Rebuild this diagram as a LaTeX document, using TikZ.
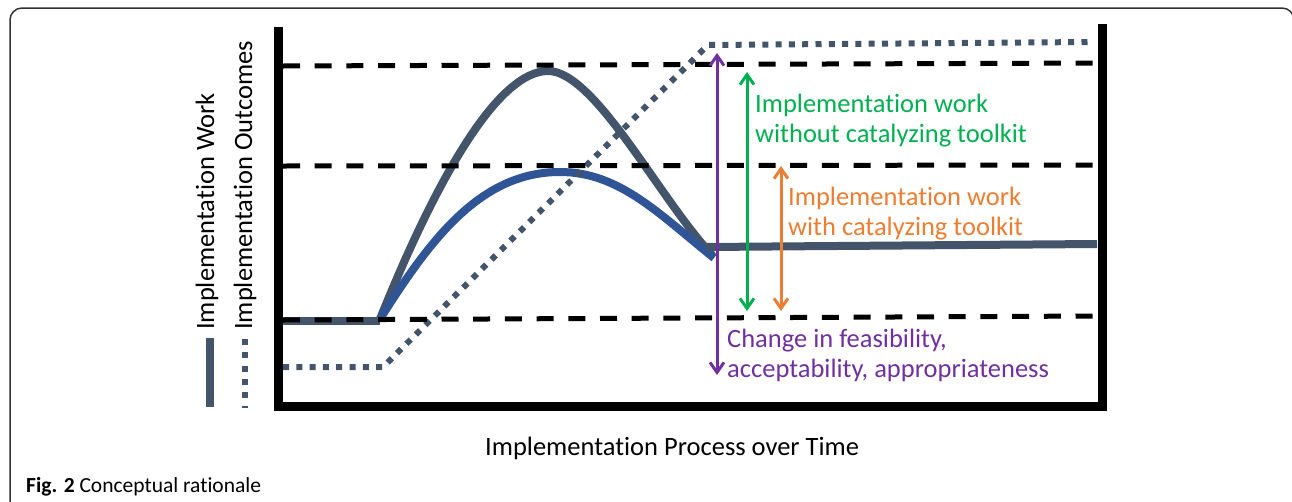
\documentclass[tikz,border=0pt]{standalone}
\usepackage{fontspec}
\setmainfont{Carlito}[Ligatures=NoCommon]
\usetikzlibrary{arrows.meta}

\definecolor{workgray}{HTML}{44546A}
\definecolor{workblue}{HTML}{2F5597}
\definecolor{notoolkit}{HTML}{00B050}
\definecolor{withtoolkit}{HTML}{ED7D31}
\definecolor{changepurple}{HTML}{7030A0}
\definecolor{framegray}{HTML}{333333}

\begin{document}
\begin{tikzpicture}[x=1pt,y=-1pt,
  framebox/.style={framegray, line width=1.5pt, rounded corners=12pt},
  axisline/.style={black, line width=9pt, line join=miter},
  levelline/.style={black, line width=5pt, dash pattern=on 17pt off 14.7pt},
  workline/.style={workgray, line width=8pt},
  toolkitline/.style={workblue, line width=8pt},
  outcomeline/.style={workgray, line width=6pt, dash pattern=on 6pt off 7.3pt},
  spanarrow/.style={line width=3pt,
    {Straight Barb[length=10pt,width=14pt]}-{Straight Barb[length=10pt,width=14pt]}},
  lbl/.style={anchor=base west, inner sep=0pt, font=\fontsize{26.5}{30}\selectfont},
]
\useasboundingbox (0,0) rectangle (1292,501);
\clip (0,0) rectangle (1292,501);

% outer figure frame
\draw[framebox] (10,520) -- (10,8) -- (1294,8) -- (1294,520);

% implementation work: without the toolkit (gray) and with it (blue)
\draw[workline] (283,321) -- (380,321);
\draw[workline] (380,319) .. controls (440,170) and (500,71) .. (548,71)
                          .. controls (595,71) and (660,200) .. (713,256);
\draw[toolkitline] (380,319) .. controls (430,240) and (480,172) .. (560,172)
                             .. controls (620,172) and (660,215) .. (714,258);
\draw[workline] (706,247) -- (1097,244);

% implementation outcomes
\draw[outcomeline] (283,367) -- (383,367) -- (708,45) -- (1090,42);

% reference levels
\draw[levelline] (283,66) -- (1097,63);
\draw[levelline] (283,166) -- (1097,165);
\draw[levelline] (283,320) -- (1097,316);

% axes
\draw[axisline] (278,27) -- (278,406) -- (1102,406) -- (1102,24);

% legend
\draw[workline] (210,338) -- (210,407);
\draw[outcomeline] (245,339) -- (245,408);
\node[lbl, rotate=90] (lblwork) at (214,330) {Implementation Work};
\node[lbl, rotate=90] (lbloutcome) at (252,330) {Implementation Outcomes};

% spans
\coordinate (chgtop) at (717,53);
\coordinate (chgbot) at (717,375);
\coordinate (notop) at (747,72);
\coordinate (nobot) at (747,311);
\coordinate (withtop) at (781,166);
\coordinate (withbot) at (781,311);
\draw[spanarrow, changepurple] (chgtop) -- (chgbot);
\draw[spanarrow, notoolkit] (notop) -- (nobot);
\draw[spanarrow, withtoolkit] (withtop) -- (withbot);

\node[lbl, text=notoolkit] (noA) at (755,112) {Implementation work};
\node[lbl, text=notoolkit] (noB) at (755,142) {without catalyzing toolkit};
\node[lbl, text=withtoolkit] (withA) at (788,205) {Implementation work};
\node[lbl, text=withtoolkit] (withB) at (788,235) {with catalyzing toolkit};
\node[lbl, text=changepurple] (chgA) at (727,347) {Change in feasibility,};
\node[lbl, text=changepurple] (chgB) at (727,377) {acceptability, appropriateness};

% x-axis title
\node[lbl] (xtitle) at (485,455) {Implementation Process over Time};

% caption
\node[anchor=base west, inner sep=0pt, font=\fontsize{21.5}{25}\selectfont] (caption)
  at (26,492) {\textbf{Fig. 2} Conceptual rationale};
\end{tikzpicture}
\end{document}
